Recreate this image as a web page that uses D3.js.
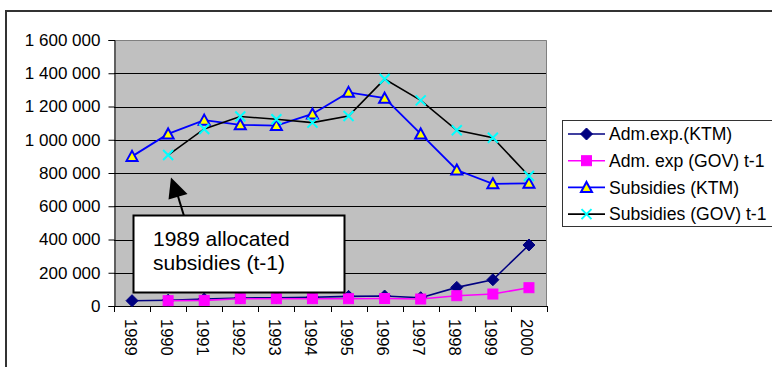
<!DOCTYPE html>
<html>
<head>
<meta charset="utf-8">
<script src="https://cdn.jsdelivr.net/npm/d3@7"></script>
<style>
  html, body { margin: 0; padding: 0; background: #fff; }
  svg { display: block; font-family: "Liberation Sans", Arial, sans-serif; }
</style>
</head>
<body>
<svg id="chart" width="772" height="367"></svg>
<script>
// Years on the category axis
const years = ["1989", "1990", "1991", "1992", "1993", "1994", "1995", "1996", "1997", "1998", "1999", "2000"];

// Series values (null = no value for that year)
const admExpKTM = [32000, 35000, 42000, 48000, 50000, 53000, 58000, 60000, 50000, 112000, 158000, 367000];
const admExpGOV = [null, 32000, 34000, 44000, 44000, 44000, 44000, 45000, 42000, 62000, 72000, 110000];
const subsKTM   = [900000, 1035000, 1118000, 1090000, 1085000, 1155000, 1285000, 1250000, 1035000, 818000, 735000, 738000];
const subsGOV   = [null, 908000, 1065000, 1140000, 1123000, 1103000, 1143000, 1365000, 1237000, 1057000, 1012000, 782000];

// Value axis ticks
const yTicks = [0, 200000, 400000, 600000, 800000, 1000000, 1200000, 1400000, 1600000];

const seriesNames = ["Adm.exp.(KTM)", "Adm. exp (GOV) t-1", "Subsidies (KTM)", "Subsidies (GOV) t-1"];
const annotationLines = ["1989 allocated", "subsidies (t-1)"];

const series = [
  { name: seriesNames[0], values: admExpKTM, line: "#000080", width: 1.6, marker: "diamond" },
  { name: seriesNames[1], values: admExpGOV, line: "#FF00FF", width: 1.6, marker: "square" },
  { name: seriesNames[2], values: subsKTM,   line: "#0000FF", width: 1.8, marker: "triangle" },
  { name: seriesNames[3], values: subsGOV,   line: "#000000", width: 1.6, marker: "cross" }
];

const svg = d3.select("#chart");
const plot = { left: 114, right: 547, top: 40, bottom: 306 };

// Outer chart frame (extends past the right and bottom edges)
svg.append("rect")
  .attr("x", 6).attr("y", 11).attr("width", 772).attr("height", 400)
  .attr("fill", "#fff").attr("stroke", "#333").attr("stroke-width", 2);

const x = d3.scaleBand().domain(years).range([plot.left, plot.right]).padding(0);
const y = d3.scaleLinear().domain([0, 1600000]).range([plot.bottom, plot.top]);

const locale = d3.formatLocale({ decimal: ",", thousands: "\u00a0", grouping: [3], currency: ["", ""] });
const fmt = locale.format(",d");

// Plot background
svg.append("rect")
  .attr("x", plot.left).attr("y", plot.top)
  .attr("width", plot.right - plot.left).attr("height", plot.bottom - plot.top)
  .attr("fill", "#C0C0C0");

// Horizontal gridlines
svg.append("g")
  .selectAll("line")
  .data(yTicks.filter(t => t > 0 && t < 1600000))
  .join("line")
  .attr("x1", plot.left).attr("x2", plot.right)
  .attr("y1", d => Math.round(y(d)) + 0.5).attr("y2", d => Math.round(y(d)) + 0.5)
  .attr("stroke", "#000").attr("stroke-width", 1);

// Plot-area border (top and right)
svg.append("path")
  .attr("d", `M${plot.left},${plot.top + 0.5}H${plot.right - 0.5}V${plot.bottom}`)
  .attr("fill", "none").attr("stroke", "#808080").attr("stroke-width", 1);

// Value axis
const yAxis = d3.axisLeft(y).tickValues(yTicks).tickFormat(fmt).tickSize(6).tickPadding(8);
const gy = svg.append("g").attr("transform", `translate(${plot.left + 0.5},0)`).call(yAxis);
gy.select(".domain").attr("stroke", "#000");
gy.selectAll(".tick line").attr("stroke", "#000");
gy.selectAll(".tick text")
  .attr("font-size", 17).attr("fill", "#000")
  .attr("font-family", "'Liberation Sans', Arial, sans-serif");

// Category axis: tick marks on category boundaries, rotated labels at centres
const gx = svg.append("g");
gx.append("line")
  .attr("x1", plot.left).attr("x2", plot.right)
  .attr("y1", plot.bottom + 0.5).attr("y2", plot.bottom + 0.5)
  .attr("stroke", "#000");
const bounds = years.map(d => x(d)).concat([x(years[years.length - 1]) + x.bandwidth()]);
gx.selectAll("line.tk")
  .data(bounds)
  .join("line").attr("class", "tk")
  .attr("x1", d => Math.round(d) + 0.5).attr("x2", d => Math.round(d) + 0.5)
  .attr("y1", plot.bottom).attr("y2", plot.bottom + 6)
  .attr("stroke", "#000");
gx.selectAll("text")
  .data(years)
  .join("text")
  .attr("transform", d => `translate(${x(d) + x.bandwidth() / 2},319) rotate(90)`)
  .attr("dy", 7.5)
  .attr("font-size", 16.5)
  .attr("fill", "#000")
  .text(d => d);

// Series lines and markers
const cx = d => x(d) + x.bandwidth() / 2;
const lineGen = d3.line()
  .defined(d => d.v != null)
  .x(d => cx(d.year))
  .y(d => y(d.v));

function drawMarker(g, type, px, py) {
  if (type === "diamond") {
    g.append("path")
      .attr("d", `M${px},${py - 6}L${px + 6},${py}L${px},${py + 6}L${px - 6},${py}Z`)
      .attr("fill", "#000080").attr("stroke", "#000080").attr("stroke-width", 1);
  } else if (type === "square") {
    g.append("rect")
      .attr("x", px - 5).attr("y", py - 5).attr("width", 10).attr("height", 10)
      .attr("fill", "#FF00FF").attr("stroke", "#FF00FF").attr("stroke-width", 1);
  } else if (type === "triangle") {
    g.append("path")
      .attr("d", `M${px},${py - 5.5}L${px + 5.5},${py + 4.5}L${px - 5.5},${py + 4.5}Z`)
      .attr("fill", "#FFFF00").attr("stroke", "#0000FF").attr("stroke-width", 2)
      .attr("stroke-linejoin", "miter");
  } else if (type === "cross") {
    g.append("path")
      .attr("d", `M${px - 5},${py - 5}L${px + 5},${py + 5}M${px + 5},${py - 5}L${px - 5},${py + 5}`)
      .attr("stroke", "#00FFFF").attr("stroke-width", 2).attr("fill", "none");
  }
}

series.forEach(s => {
  const pts = years.map((yr, i) => ({ year: yr, v: s.values[i] }));
  const g = svg.append("g");
  g.append("path")
    .datum(pts)
    .attr("d", lineGen)
    .attr("fill", "none")
    .attr("stroke", s.line)
    .attr("stroke-width", s.width);
  pts.filter(p => p.v != null).forEach(p => drawMarker(g, s.marker, cx(p.year), y(p.v)));
});

// Annotation callout with arrow
const note = svg.append("g");
note.append("line")
  .attr("x1", 184).attr("y1", 216).attr("x2", 177).attr("y2", 193)
  .attr("stroke", "#000").attr("stroke-width", 2);
note.append("path")
  .attr("d", "M171,177.5L187.5,194L168.5,199.5Z")
  .attr("fill", "#000");
note.append("rect")
  .attr("x", 133.5).attr("y", 215.5).attr("width", 211).attr("height", 77)
  .attr("fill", "#fff").attr("stroke", "#000").attr("stroke-width", 2);
note.selectAll("text")
  .data(annotationLines)
  .join("text")
  .attr("x", 153)
  .attr("y", (d, i) => 246 + i * 24)
  .attr("font-size", 21)
  .attr("fill", "#000")
  .text(d => d);

// Legend
const legend = svg.append("g");
legend.append("rect")
  .attr("x", 562.5).attr("y", 120.5).attr("width", 220).attr("height", 106)
  .attr("fill", "#fff").attr("stroke", "#333").attr("stroke-width", 1);
series.forEach((s, i) => {
  const ly = 134 + i * 26.7;
  const g = legend.append("g");
  g.append("line")
    .attr("x1", 568).attr("x2", 605).attr("y1", ly).attr("y2", ly)
    .attr("stroke", s.line).attr("stroke-width", s.width);
  drawMarker(g, s.marker, 586.5, ly);
  g.append("text")
    .attr("x", 609).attr("y", ly).attr("dy", "0.36em")
    .attr("font-size", 17.6).attr("fill", "#000")
    .text(s.name);
});
</script>
</body>
</html>
